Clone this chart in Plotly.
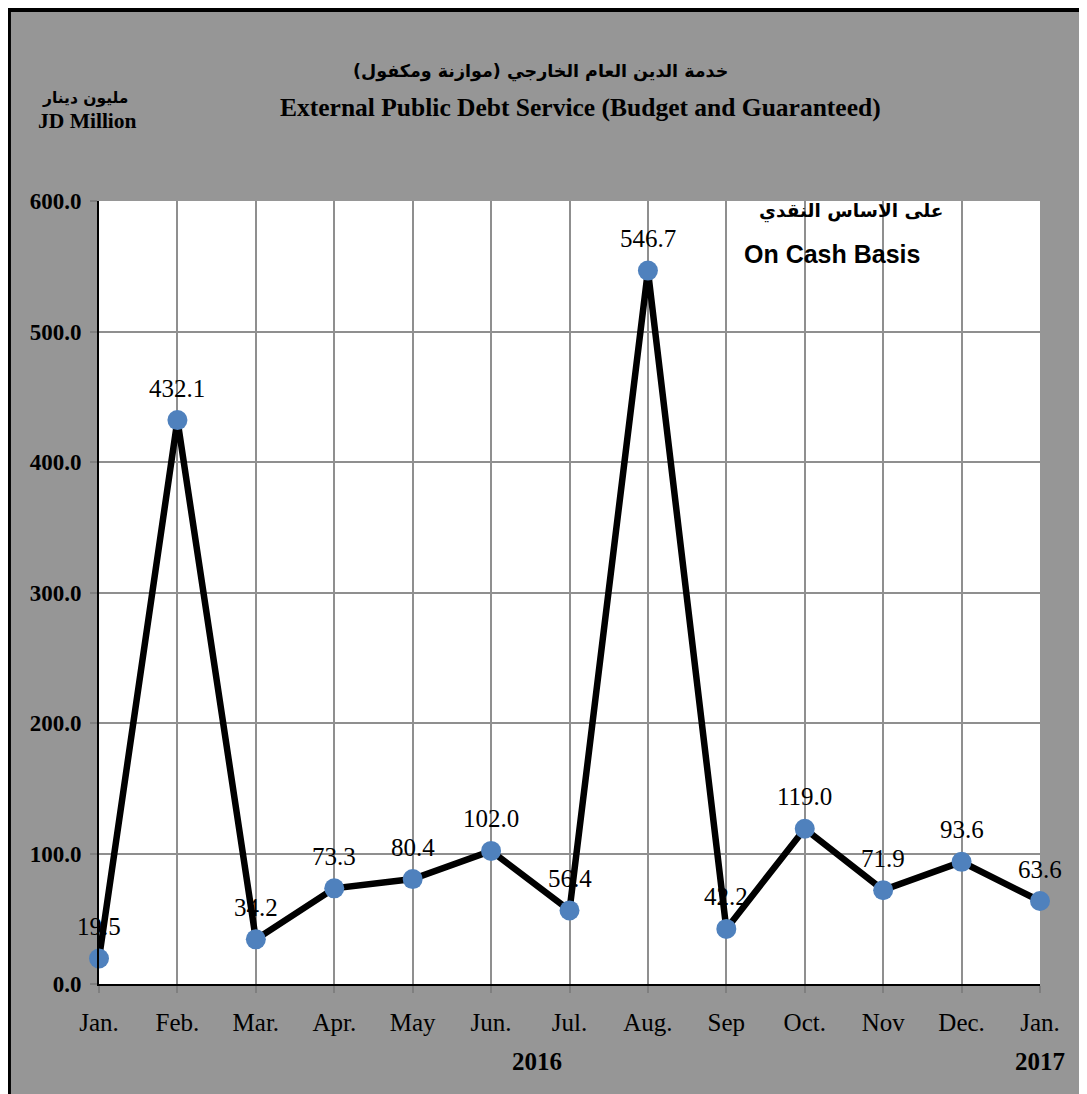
import plotly.graph_objects as go

months = ["Jan.", "Feb.", "Mar.", "Apr.", "May", "Jun.", "Jul.", "Aug.", "Sep", "Oct.", "Nov", "Dec.", "Jan."]
values = [19.5, 432.1, 34.2, 73.3, 80.4, 102.0, 56.4, 546.7, 42.2, 119.0, 71.9, 93.6, 63.6]
y_ticks = [0, 100, 200, 300, 400, 500, 600]
y_tick_labels = ["0.0", "100.0", "200.0", "300.0", "400.0", "500.0", "600.0"]

x_pos = list(range(len(months)))
SERIF = "Liberation Serif, Times New Roman, DejaVu Serif"
ARABIC = "DejaVu Sans, Arial"

fig = go.Figure()
fig.add_trace(go.Scatter(
    x=x_pos, y=values, mode="lines+markers",
    line=dict(color="black", width=6.5),
    marker=dict(color="#4F81BD", size=20, line=dict(width=0)),
    hoverinfo="skip", showlegend=False, cliponaxis=False,
))

annotations = []
for xi, v in zip(x_pos, values):
    annotations.append(dict(
        x=xi, y=v, xref="x", yref="y", text=f"{v:.1f}", showarrow=False,
        yshift=32, font=dict(family=SERIF, size=25, color="black"),
    ))

def pa(text, x, y, size, family, bold=False, xanchor="center"):
    annotations.append(dict(
        x=x, y=y, xref="paper", yref="paper", text=f"<b>{text}</b>" if bold else text,
        showarrow=False, xanchor=xanchor, yanchor="middle",
        font=dict(family=family, size=size, color="black"),
    ))

pa("خدمة الدين العام الخارجي (موازنة ومكفول)", 0.4687, 1.1648, 17.5, ARABIC, True)
pa("External Public Debt Service (Budget and Guaranteed)", 0.5122, 1.1188, 25.5, SERIF, True)
pa("مليون دينار", -0.0149, 1.1315, 15.5, ARABIC, True)
pa("JD Million", -0.0117, 1.1022, 21.5, SERIF, True)
pa("على الاساس النقدي", 0.899, 0.986, 18.5, ARABIC, True, xanchor="right")
pa("On Cash Basis", 0.779, 0.932, 25, "Liberation Sans, Arial", True)
pa("2016", 0.4655, -0.0996, 25, SERIF, True)
pa("2017", 1.0, -0.0996, 25, SERIF, True)

fig.update_layout(
    width=1079, height=1086,
    margin=dict(l=91, r=47, t=193, b=110),
    paper_bgcolor="#969696", plot_bgcolor="white",
    annotations=annotations,
    shapes=[dict(type="rect", xref="paper", yref="paper",
                 x0=-0.0957, x1=1.3, y0=-0.3, y1=1.2439,
                 line=dict(color="black", width=4), layer="below")],
    xaxis=dict(
        range=[0, 12], tickvals=x_pos, ticktext=months,
        showgrid=True, gridcolor="#8f8f8f", gridwidth=2,
        showline=True, linecolor="black", linewidth=2,
        ticks="outside", ticklen=7, tickcolor="#7f7f7f", tickwidth=2,
        ticklabelstandoff=8,
        tickfont=dict(family=SERIF, size=25, color="black"),
        zeroline=False, fixedrange=True,
    ),
    yaxis=dict(
        range=[0, 600], tickvals=y_ticks, ticktext=[f"<b>{t}</b>" for t in y_tick_labels],
        showgrid=True, gridcolor="#8f8f8f", gridwidth=2,
        showline=True, linecolor="black", linewidth=2,
        ticks="outside", ticklen=7, tickcolor="#7f7f7f", tickwidth=2,
        ticklabelstandoff=4,
        tickfont=dict(family=SERIF, size=23, color="black"),
        zeroline=False, fixedrange=True,
    ),
)

fig.write_html("out.html")
